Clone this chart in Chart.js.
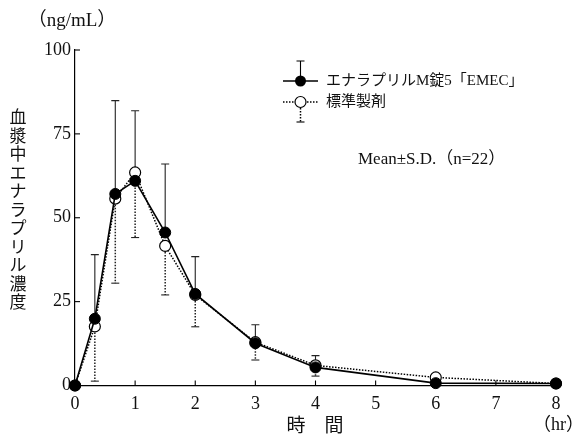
<!DOCTYPE html>
<html><head><meta charset="utf-8">
<script src="https://cdn.jsdelivr.net/npm/chart.js@4"></script>
<style>html,body{margin:0;padding:0;background:#fff}#wrap{width:576px;height:437px;position:relative}</style>
</head><body><div id="wrap"><canvas id="c" width="576" height="437" style="width:576px;height:437px"></canvas></div>
<script>
// ---- data ----
const times   = [0, 0.33, 0.67, 1, 1.5, 2, 3, 4, 6, 8];
const testMean = [0, 19.9, 57.1, 61.0, 45.6, 27.3, 12.6, 5.4, 0.7, 0.6];
const testSD   = [0, 19.1, 27.8, 20.9, 20.4, 11.1, 5.5, 3.5, 0, 0];
const refMean  = [0, 17.6, 55.7, 63.5, 41.6, 27.0, 12.9, 6.0, 2.4, 0.6];
const refSD    = [0, 16.3, 25.2, 19.4, 14.6, 9.5, 5.3, 3.2, 0, 0];
const xTicks = [0, 1, 2, 3, 4, 5, 6, 7, 8];
const yTicks = [0, 25, 50, 75, 100];
const seriesNames = ['エナラプリルM錠5「EMEC」', '標準製剤'];
const yTitle = '血漿中エナラプリル濃度';
const xTitle = '時　間';
const yUnit = '（ng/mL）';
const xUnit = '（hr）';
const statNote = 'Mean±S.D.（n=22）';

const SERIF = '"Liberation Serif","Times New Roman",serif';
const JP = '"Liberation Serif","Noto Sans CJK JP",sans-serif';
const CJK = '"Noto Sans CJK JP",sans-serif';

function pts(ys){ return times.map((t,i)=>({x:t,y:ys[i]})); }

const errorBars = {
  id:'errorBars',
  beforeDatasetsDraw(chart){
    const ctx = chart.ctx, xs = chart.scales.x, ys = chart.scales.y;
    ctx.save();
    ctx.strokeStyle = '#222';
    ctx.lineWidth = 1.1; ctx.setLineDash([]);
    times.forEach((t,i)=>{
      if(!testSD[i]) return;
      const px = xs.getPixelForValue(t), y0 = ys.getPixelForValue(testMean[i]), y1 = ys.getPixelForValue(testMean[i]+testSD[i]);
      ctx.beginPath(); ctx.moveTo(px,y0); ctx.lineTo(px,y1); ctx.moveTo(px-4,y1); ctx.lineTo(px+4,y1); ctx.stroke();
    });
    times.forEach((t,i)=>{
      if(!refSD[i]) return;
      const px = xs.getPixelForValue(t), y0 = ys.getPixelForValue(refMean[i]), y1 = ys.getPixelForValue(refMean[i]-refSD[i]);
      ctx.lineWidth = 1.5; ctx.setLineDash([1.5,1.5]);
      ctx.beginPath(); ctx.moveTo(px,y0); ctx.lineTo(px,y1); ctx.stroke();
      ctx.lineWidth = 1.1; ctx.setLineDash([]);
      ctx.beginPath(); ctx.moveTo(px-4,y1); ctx.lineTo(px+4,y1); ctx.stroke();
    });
    ctx.restore();
  }
};

const decor = {
  id:'decor',
  afterDraw(chart){
    const ctx = chart.ctx, xs = chart.scales.x, ys = chart.scales.y;
    ctx.save();
    ctx.strokeStyle = '#000'; ctx.lineWidth = 1.1; ctx.setLineDash([]);
    xTicks.forEach(v=>{ const px = xs.getPixelForValue(v); ctx.beginPath(); ctx.moveTo(px, ys.bottom); ctx.lineTo(px, ys.bottom-5); ctx.stroke(); });
    yTicks.forEach(v=>{ const py = ys.getPixelForValue(v); ctx.beginPath(); ctx.moveTo(xs.left, py); ctx.lineTo(xs.left+5, py); ctx.stroke(); });
    ctx.fillStyle = '#111';
    ctx.textBaseline = 'middle';
    ctx.font = '19px ' + JP; ctx.textAlign = 'center';
    ctx.fillText(yUnit, 72, 21);
    ctx.font = '18px ' + JP; ctx.textAlign = 'right';
    ctx.fillText(xUnit, 584, 425);
    ctx.font = '19px ' + CJK; ctx.textAlign = 'center';
    ctx.fillText(xTitle, 315, 425);
    ctx.font = '17px ' + CJK;
    [...yTitle].forEach((ch,i)=> ctx.fillText(ch, 18, 117 + i*18.5));
    ctx.font = '17px ' + JP; ctx.textAlign = 'left';
    ctx.fillText(statNote, 358, 160);
    const ly1 = 81, ly2 = 102, lx0 = 283, lx1 = 318, lc = 300.5;
    ctx.strokeStyle = '#000';
    ctx.lineWidth = 1.5; ctx.setLineDash([]);
    ctx.beginPath(); ctx.moveTo(lx0, ly1); ctx.lineTo(lx1, ly1); ctx.stroke();
    ctx.lineWidth = 1.1;
    ctx.beginPath(); ctx.moveTo(lc, ly1); ctx.lineTo(lc, 61); ctx.moveTo(lc-4,61); ctx.lineTo(lc+4,61); ctx.stroke();
    ctx.beginPath(); ctx.arc(lc, ly1, 5.5, 0, Math.PI*2); ctx.fillStyle='#000'; ctx.fill();
    ctx.lineWidth = 1.5; ctx.setLineDash([1.5,1.5]);
    ctx.beginPath(); ctx.moveTo(lx0, ly2); ctx.lineTo(lx1, ly2); ctx.stroke();
    ctx.beginPath(); ctx.moveTo(lc, ly2); ctx.lineTo(lc, 122); ctx.stroke();
    ctx.setLineDash([]); ctx.lineWidth = 1.1;
    ctx.beginPath(); ctx.moveTo(lc-4,122); ctx.lineTo(lc+4,122); ctx.stroke();
    ctx.beginPath(); ctx.arc(lc, ly2, 5.5, 0, Math.PI*2); ctx.fillStyle='#fff'; ctx.fill(); ctx.lineWidth=1.2; ctx.stroke();
    ctx.fillStyle = '#111'; ctx.font = '15px ' + JP; ctx.textAlign='left';
    ctx.fillText(seriesNames[0], 326, ly1);
    ctx.fillText(seriesNames[1], 326, ly2);
    ctx.restore();
  }
};

new Chart(document.getElementById('c'), {
  type:'scatter',
  data:{ datasets:[
    { label:seriesNames[0], data:pts(testMean), showLine:true, borderColor:'#000', borderWidth:1.6,
      pointRadius:5.5, pointBackgroundColor:'#000', pointBorderColor:'#000', pointBorderWidth:1, clip:false, tension:0 },
    { label:seriesNames[1], data:pts(refMean), showLine:true, borderColor:'#000', borderWidth:1.5, borderDash:[1.5,1.5],
      pointRadius:5.5, pointBackgroundColor:'#fff', pointBorderColor:'#000', pointBorderWidth:1.2, clip:false, tension:0 }
  ]},
  options:{
    responsive:false, animation:false, devicePixelRatio:1,
    layout:{ padding:{ top:50, right:20, left:0, bottom:0 } },
    plugins:{ legend:{display:false}, tooltip:{enabled:false} },
    scales:{
      x:{ type:'linear', min:0, max:8, afterBuildTicks:s=>{ s.ticks = xTicks.map(v=>({value:v})); },
          grid:{ display:true, drawOnChartArea:false, drawTicks:false },
          border:{ display:true, color:'#000', width:1.2 },
          ticks:{ color:'#111', padding:8, font:{ family:SERIF, size:18 }, maxRotation:0 },
          afterFit:s=>{ s.height = 437 - 385.5; } },
      y:{ type:'linear', min:0, max:100, afterBuildTicks:s=>{ s.ticks = yTicks.map(v=>({value:v})); },
          grid:{ display:true, drawOnChartArea:false, drawTicks:false },
          border:{ display:true, color:'#000', width:1.2 },
          ticks:{ color:'#111', padding:4, font:{ family:SERIF, size:18 } },
          afterFit:s=>{ s.width = 75; } }
    }
  },
  plugins:[errorBars, decor]
});
</script></body></html>
